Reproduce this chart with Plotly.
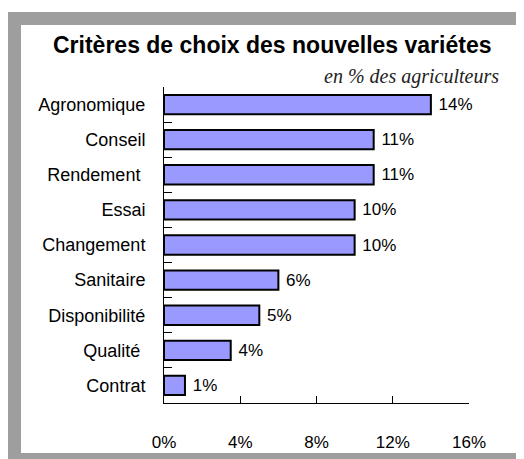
import plotly.graph_objects as go

# criteria, top to bottom as in the source chart
criteres = ["Agronomique", "Conseil", "Rendement\u00a0", "Essai", "Changement",
            "Sanitaire", "Disponibilité", "Qualité\u00a0", "Contrat"]
pourcentages = [14, 11, 11, 10, 10, 6, 5, 3.5, 1.1]
etiquettes = ["14%", "11%", "11%", "10%", "10%", "6%", "5%", "4%", "1%"]

x_ticks = [0, 4, 8, 12, 16]
x_tick_labels = ["0%", "4%", "8%", "12%", "16%"]

# page body adds an 8px margin, so the figure is drawn 8px in
OFF = 8
W, H = 524 - OFF, 459 - OFF
ML, MR, MT, MB = 164 - OFF, 55, 87 - OFF, 56
PW, PH = W - ML - MR, H - MT - MB


def px(x):
    return (x - OFF - ML) / PW


def py(y):
    return (H - MB - (y - OFF)) / PH


FONT = "Liberation Sans, Arial, sans-serif"

fig = go.Figure(go.Bar(
    x=pourcentages,
    y=criteres,
    orientation="h",
    width=0.55,
    marker=dict(color="#9999ff", line=dict(color="black", width=2)),
    text=["\u00a0" + t for t in etiquettes],
    textposition="outside",
    textfont=dict(family=FONT, size=17, color="black"),
    cliponaxis=False,
    hoverinfo="skip",
))

# grey frame (left, top, bottom bands)
frame = [
    dict(type="rect", xref="paper", yref="paper", layer="below",
         x0=px(8), x1=px(600), y0=py(500), y1=py(12),
         fillcolor="#9e9e9e", line=dict(width=0)),
    dict(type="rect", xref="paper", yref="paper", layer="below",
         x0=px(21), x1=px(600), y0=py(453), y1=py(25),
         fillcolor="white", line=dict(width=0)),
]

fig.update_layout(
    width=W, height=H,
    margin=dict(l=ML, r=MR, t=MT, b=MB),
    paper_bgcolor="white",
    plot_bgcolor="rgba(0,0,0,0)",
    showlegend=False,
    shapes=frame,
    font=dict(family=FONT, size=17, color="black"),
    annotations=[
        dict(text="<b>Critères de choix des nouvelles variétes</b>",
             xref="paper", yref="paper", x=px(272), y=py(45),
             xanchor="center", yanchor="middle", showarrow=False,
             font=dict(family=FONT, size=23, color="black")),
        dict(text="<i>en % des agriculteurs</i>",
             xref="paper", yref="paper", x=px(501), y=py(76),
             xanchor="right", yanchor="middle", showarrow=False,
             font=dict(family="Liberation Serif, Times New Roman, serif",
                       size=20, color="#222")),
    ],
    xaxis=dict(
        range=[0, 16],
        tickvals=x_ticks,
        ticktext=x_tick_labels,
        ticks="inside", ticklen=7, tickcolor="black", tickwidth=1,
        showline=True, linecolor="black", linewidth=1,
        showgrid=False, zeroline=False,
        ticklabelstandoff=24,
        tickfont=dict(size=17),
        automargin=False,
        fixedrange=True,
    ),
    yaxis=dict(
        autorange="reversed",
        tickson="boundaries",
        ticks="inside", ticklen=8, tickcolor="black", tickwidth=1,
        showline=True, linecolor="black", linewidth=1,
        showgrid=False, zeroline=False,
        ticklabelstandoff=14,
        tickfont=dict(size=18),
        automargin=False,
        fixedrange=True,
    ),
)

fig.write_html("out.html")
